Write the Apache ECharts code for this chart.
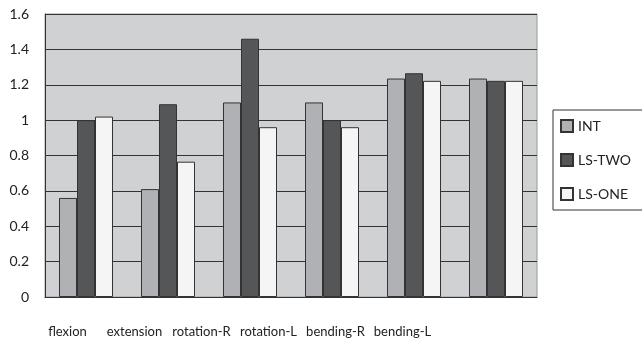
<!DOCTYPE html>
<html>
<head>
<meta charset="utf-8">
<script src="https://cdn.jsdelivr.net/npm/echarts@6/dist/echarts.min.js"></script>
<style>
  html, body { margin: 0; padding: 0; background: #fff; }
  #chart { width: 642px; height: 342px; }
</style>
</head>
<body>
<div id="chart"></div>
<script>
var categories = ['flexion', 'extension', 'rotation-R', 'rotation-L', 'bending-R', 'bending-L']
var intValues = [0.56, 0.61, 1.10, 1.10, 1.235, 1.235]
var lsTwoValues = [1.0, 1.09, 1.46, 1.0, 1.265, 1.222]
var lsOneValues = [1.02, 0.765, 0.96, 0.96, 1.222, 1.222]
var yTicks = [0, 0.2, 0.4, 0.6, 0.8, 1, 1.2, 1.4, 1.6]

var chart = echarts.init(document.getElementById('chart'))

var font = 'Lato'
function bar(name, color, data) {
  return {
    name: name,
    type: 'bar',
    barWidth: 18,
    barGap: '0%',
    data: data,
    itemStyle: { color: color, borderColor: '#333', borderWidth: 1 }
  }
}

chart.setOption({
  animation: false,
  textStyle: { fontFamily: font },
  grid: [{
    left: 45,
    right: 105,
    top: 14,
    bottom: 45,
    show: true,
    backgroundColor: '#d0d1d3',
    borderColor: '#999',
    borderWidth: 1
  }, {
    // labels in the original sit off-centre, packed to the left
    left: 34,
    width: 402,
    top: 14,
    bottom: 45
  }],
  legend: {
    orient: 'vertical',
    left: 553,
    top: 110,
    padding: [9, 30, 9, 7],
    itemGap: 20,
    itemWidth: 12,
    itemHeight: 12,
    icon: 'rect',
    backgroundColor: '#fff',
    borderColor: '#333',
    borderWidth: 1,
    borderRadius: 0,
    textStyle: { fontFamily: font, fontSize: 14, color: '#222' },
    data: ['INT', 'LS-TWO', 'LS-ONE']
  },
  xAxis: [{
    type: 'category',
    gridIndex: 0,
    data: categories,
    axisLine: { lineStyle: { color: '#333', width: 1 } },
    axisTick: { inside: true, length: 5, lineStyle: { color: '#333' } },
    axisLabel: { show: false }
  }, {
    type: 'category',
    gridIndex: 1,
    data: categories,
    axisLine: { show: false },
    axisTick: { show: false },
    axisLabel: { interval: 0, hideOverlap: false, margin: 28, fontSize: 13, color: '#222', fontFamily: font }
  }],
  yAxis: [{
    type: 'value',
    gridIndex: 0,
    min: yTicks[0],
    max: yTicks[yTicks.length - 1],
    interval: 0.2,
    axisLine: { show: true, lineStyle: { color: '#333' } },
    axisTick: { show: false },
    axisLabel: { margin: 16, fontSize: 14, color: '#222', fontFamily: font },
    splitLine: { lineStyle: { color: '#333', width: 1 } }
  }, {
    type: 'value',
    gridIndex: 1,
    show: false
  }],
  series: [
    bar('INT', '#b0b1b4', intValues),
    bar('LS-TWO', '#555658', lsTwoValues),
    bar('LS-ONE', '#f5f5f5', lsOneValues)
  ]
})
</script>
</body>
</html>
